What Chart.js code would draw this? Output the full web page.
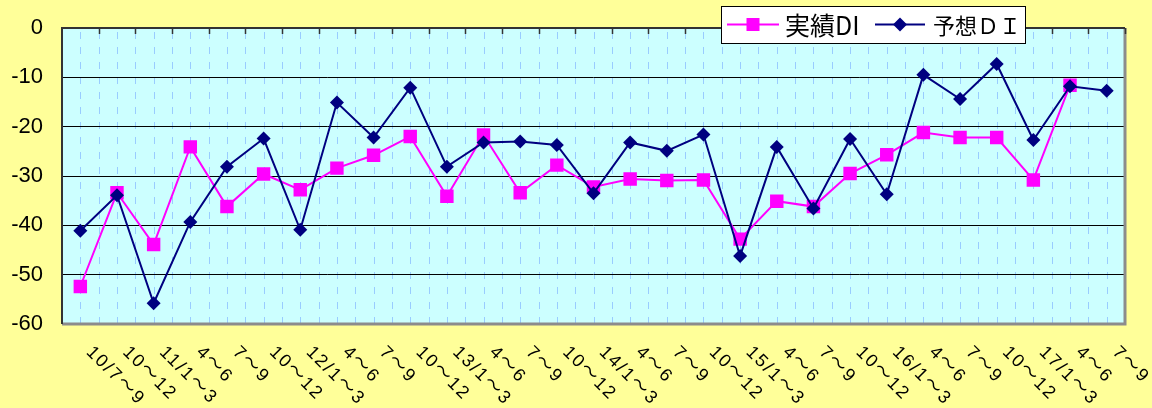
<!DOCTYPE html>
<html lang="ja">
<head>
<meta charset="UTF-8">
<title>実績DI・予想DI</title>
<style>
  html, body { margin: 0; padding: 0; background: #FFFF99; }
  #wrap { width: 1152px; height: 408px; }
</style>
</head>
<body>
<div id="wrap"><canvas id="chart" width="1152" height="408"></canvas></div>

<script src="https://cdn.jsdelivr.net/npm/chart.js@4.4.1/dist/chart.umd.min.js"></script>
<script>
// 四半期ラベル
const categories = [
  '10/7～9', '10～12', '11/1～3', '4～6', '7～9', '10～12',
  '12/1～3', '4～6', '7～9', '10～12', '13/1～3', '4～6', '7～9', '10～12',
  '14/1～3', '4～6', '7～9', '10～12', '15/1～3', '4～6', '7～9', '10～12',
  '16/1～3', '4～6', '7～9', '10～12', '17/1～3', '4～6', '7～9'
];

// 実績DI (最後の期はまだ無い)
const jissekiDI = [
  -52.4, -33.4, -43.9, -24.1, -36.2, -29.6, -32.8, -28.4, -25.8, -22.0,
  -34.1, -21.7, -33.4, -27.8, -32.2, -30.6, -30.9, -30.8, -42.8, -35.1,
  -36.2, -29.5, -25.7, -21.2, -22.2, -22.2, -30.8, -11.6, null
];

// 予想DI
const yosouDI = [
  -41.1, -33.9, -55.8, -39.3, -28.1, -22.4, -40.9, -15.1, -22.2, -12.1,
  -28.1, -23.2, -23.0, -23.7, -33.5, -23.2, -24.9, -21.6, -46.2, -24.1,
  -36.6, -22.5, -33.7, -9.5, -14.4, -7.3, -22.7, -11.8, -12.7
];

const yMin = -60, yMax = 0, yStep = 10;

const FONT = "'Liberation Sans', Arial, 'Noto Sans CJK JP', sans-serif";
const JP_FONT = "'Noto Sans CJK JP', 'Liberation Sans', sans-serif";

// Excel風の背景・枠・破線グリッド・斜めラベル・凡例
const excelLook = {
  id: 'excelLook',
  beforeDraw(chart) {
    const { ctx, chartArea: a, scales: { x } } = chart;
    ctx.save();
    ctx.fillStyle = '#FFFF99';
    ctx.fillRect(0, 0, chart.width, chart.height);
    ctx.fillStyle = '#CCFFFF';
    ctx.fillRect(a.left, a.top, a.right - a.left, a.bottom - a.top);

    // 縦の破線 (各期の中心と境界)
    ctx.strokeStyle = '#99CCFF';
    ctx.lineWidth = 1;
    ctx.setLineDash([7, 8]);
    for (let v = 0; v < categories.length - 0.6; v += 0.5) {
      const px = Math.round(x.getPixelForValue(v)) + 0.5;
      ctx.beginPath();
      ctx.moveTo(px, a.top + 4);
      ctx.lineTo(px, a.bottom);
      ctx.stroke();
    }
    ctx.restore();
  },
  beforeDatasetsDraw(chart) {
    const { ctx, chartArea: a, scales: { x } } = chart;
    ctx.save();
    // 右・下の影付き枠
    ctx.strokeStyle = '#8C8C8C';
    ctx.lineWidth = 3;
    ctx.beginPath();
    ctx.moveTo(a.right, a.top);
    ctx.lineTo(a.right, a.bottom);
    ctx.lineTo(a.left, a.bottom);
    ctx.stroke();
    // 上 (X軸) と左 (Y軸)
    ctx.strokeStyle = '#333333';
    ctx.lineWidth = 2;
    ctx.beginPath();
    ctx.moveTo(a.right, a.top);
    ctx.lineTo(a.left, a.top);
    ctx.lineTo(a.left, a.bottom);
    ctx.stroke();
    // 上側の目盛り
    ctx.lineWidth = 1.5;
    for (let v = 0.5; v < categories.length; v += 1) {
      const px = Math.round(x.getPixelForValue(v)) + 0.5;
      ctx.beginPath();
      ctx.moveTo(px, a.top);
      ctx.lineTo(px, a.top + 6);
      ctx.stroke();
    }
    ctx.restore();
  },
  afterDraw(chart) {
    const { ctx, scales: { x } } = chart;
    ctx.save();
    // 斜めの期ラベル
    ctx.fillStyle = '#000';
    ctx.font = '18px ' + FONT;
    ctx.textAlign = 'left';
    ctx.textBaseline = 'top';
    if ('letterSpacing' in ctx) ctx.letterSpacing = '2px';
    categories.forEach((lab, i) => {
      const px = x.getPixelForValue(i);
      ctx.save();
      ctx.translate(px + 15, 343);
      ctx.rotate(Math.PI / 4);
      ctx.fillText(lab, 0, 0);
      ctx.restore();
    });
    if ('letterSpacing' in ctx) ctx.letterSpacing = '0px';

    // 凡例
    const ds = chart.data.datasets;
    const bx = 721, by = 6, bw = 304, bh = 37, cy = 24.5;
    ctx.fillStyle = '#FFFFFF';
    ctx.fillRect(bx, by, bw, bh);
    ctx.strokeStyle = '#000';
    ctx.lineWidth = 1;
    ctx.strokeRect(bx + 0.5, by + 0.5, bw, bh);

    const items = [
      { d: ds[1], x0: 727, x1: 779, tx: 785, fs: 25 },
      { d: ds[0], x0: 875, x1: 925, tx: 933, fs: 22 }
    ];
    items.forEach(it => {
      ctx.strokeStyle = it.d.borderColor;
      ctx.lineWidth = it.d.borderWidth;
      ctx.beginPath();
      ctx.moveTo(it.x0, cy);
      ctx.lineTo(it.x1, cy);
      ctx.stroke();
      const mx = (it.x0 + it.x1) / 2;
      ctx.fillStyle = it.d.pointBackgroundColor;
      ctx.beginPath();
      if (it.d.pointStyle === 'rect') {
        ctx.rect(mx - 6.5, cy - 6.5, 13, 13);
      } else {
        ctx.moveTo(mx - 7, cy);
        ctx.lineTo(mx, cy - 7);
        ctx.lineTo(mx + 7, cy);
        ctx.lineTo(mx, cy + 7);
        ctx.closePath();
      }
      ctx.fill();
      ctx.fillStyle = '#000';
      ctx.font = it.fs + 'px ' + JP_FONT;
      ctx.textAlign = 'left';
      ctx.textBaseline = 'middle';
      ctx.fillText(it.d.label, it.tx, cy + 1);
    });
    ctx.restore();
  }
};

new Chart(document.getElementById('chart'), {
  type: 'line',
  data: {
    labels: categories,
    datasets: [
      {
        label: '予想ＤＩ',
        data: yosouDI,
        borderColor: '#000080',
        backgroundColor: '#000080',
        pointBackgroundColor: '#000080',
        pointBorderColor: '#000080',
        borderWidth: 2,
        pointStyle: 'rectRot',
        pointRadius: 7,
        pointBorderWidth: 0,
        tension: 0,
        order: 0
      },
      {
        label: '実績DI',
        data: jissekiDI,
        borderColor: '#FF00FF',
        backgroundColor: '#FF00FF',
        pointBackgroundColor: '#FF00FF',
        pointBorderColor: '#FF00FF',
        borderWidth: 2,
        pointStyle: 'rect',
        pointRadius: 9.5,
        pointBorderWidth: 0,
        tension: 0,
        order: 1
      }
    ]
  },
  options: {
    responsive: false,
    animation: false,
    devicePixelRatio: 1,
    layout: { padding: { top: 28, right: 27, left: 0, bottom: 0 } },
    plugins: {
      legend: { display: false },
      tooltip: { enabled: false }
    },
    scales: {
      x: {
        offset: true,
        grid: { display: false },
        border: { display: false },
        ticks: { display: false },
        afterFit(scale) { scale.height = 84; }
      },
      y: {
        min: yMin,
        max: yMax,
        grid: { color: '#000000', lineWidth: 1, drawTicks: false },
        border: { display: false },
        ticks: {
          stepSize: yStep,
          padding: 19,
          color: '#000',
          // lineHeight small so the top label does not push the plot down
          font: { family: FONT, size: 22, lineHeight: 0.6 }
        },
        afterFit(scale) { scale.width = 62; }
      }
    }
  },
  plugins: [excelLook]
});
</script>
</body>
</html>
